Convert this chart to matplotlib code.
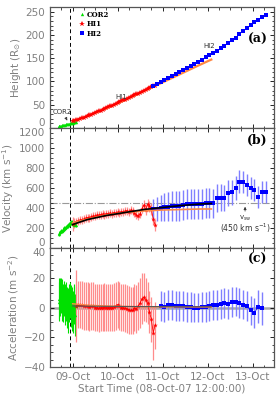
import matplotlib
matplotlib.use("Agg")
import matplotlib.pyplot as plt
from matplotlib.ticker import MultipleLocator, FixedLocator

# time axis: hours since 08-Oct-07 12:00:00
day_ticks = [12, 36, 60, 84, 108]
day_labels = ["09-Oct", "10-Oct", "11-Oct", "12-Oct", "13-Oct"]
t_start_line = 10.4

# COR2
green_t = [4.5, 5.0, 5.5, 6.0, 6.5, 7.0, 7.5, 8.0, 8.5, 9.0,
           9.5, 10.0, 10.5, 11.0, 11.5, 12.0, 12.5, 13.0, 13.5, 14.0]
green_h = [3.5, 4.0, 4.6, 5.1, 5.6, 6.1, 6.6, 7.1, 7.6, 8.1,
           8.6, 9.1, 9.7, 10.3, 10.9, 11.5, 12.1, 12.7, 13.3, 13.9]
green_v = [140, 150, 160, 170, 175, 185, 195, 200, 210, 220,
           230, 240, 250, 255, 260, 245, 235, 255, 245, 235]
green_v_err = [20, 20, 20, 20, 20, 22, 22, 22, 22, 22,
               25, 25, 25, 25, 25, 25, 25, 25, 25, 25]
green_a = [4, 6, 7, 8, 5, 3, 6, 2, 4, 0,
           -2, 3, 5, 1, -1, -3, 2, 4, -5, 1]
green_a_err = [13, 14, 13, 12, 14, 13, 12, 14, 13, 14,
               15, 13, 12, 14, 15, 14, 13, 12, 14, 13]

# HI1
red_t = list(range(12, 57))
red_h = [14.0, 15.3, 16.7, 18.1, 19.5, 21.0, 22.5, 24.0, 25.6, 27.2,
         28.8, 30.4, 32.1, 33.8, 35.5, 37.2, 39.0, 40.8, 42.6, 44.4,
         46.2, 48.0, 49.8, 51.6, 53.5, 55.4, 57.3, 59.2, 61.1, 63.0,
         64.9, 66.9, 68.8, 70.6, 72.3, 74.0, 75.8, 77.8, 80.0, 82.0,
         84.2, 86.4, 88.4, 89.9, 91.1]
red_v = [240, 255, 265, 275, 280, 285, 290, 300, 305, 305,
         315, 320, 320, 330, 330, 335, 340, 335, 345, 345,
         350, 345, 355, 350, 360, 355, 365, 360, 370, 375,
         365, 380, 370, 350, 330, 320, 345, 395, 430, 380,
         440, 420, 390, 290, 230]
red_v_err = [70, 50, 40, 40, 40, 40, 40, 40, 40, 40,
             40, 40, 40, 40, 40, 40, 40, 40, 40, 40,
             40, 40, 40, 40, 40, 40, 40, 40, 40, 40,
             40, 40, 40, 40, 40, 40, 40, 45, 50, 50,
             55, 55, 60, 60, 60]
red_at = list(range(14, 57))
red_a = [1, 2, 2, 1.5, 1, 1, 1, 0.5, 1, 1,
         0, 0, -0.5, 0, 0, 0.5, 0, 0, 0, 0,
         0.5, 1, 2, 1, 0, 0, -0.5, -1, -1.5, -2,
         -2, 0, -1, 1, 3, 6, 7, 5, 3, -3,
         -8, -17, -12]
red_a_err = [24, 16, 16, 16, 16, 16, 16, 16, 16, 16,
             16, 16, 16, 16, 16, 16, 16, 16, 16, 16,
             16, 16, 16, 16, 16, 16, 16, 16, 16, 16,
             16, 16, 16, 16, 17, 17, 16, 15, 14, 14,
             15, 18, 16]

# HI2
blue_t = list(range(55, 116, 2))
blue_h = [90, 94, 98.2, 102.4, 106.6, 110.9, 115.3, 119.7, 124.1, 128.6,
          133.2, 137.8, 142.4, 147, 151.7, 156.4, 161, 166.2, 171.4, 176.6,
          182.3, 188.1, 194.3, 201.2, 208.1, 214.6, 220.8, 226.8, 232.1, 238,
          243.8]
blue_v = [390, 395, 400, 410, 415, 420, 425, 425, 430, 440,
          445, 445, 445, 445, 450, 455, 450, 500, 505, 505,
          555, 560, 600, 665, 665, 630, 600, 580, 515, 565,
          560]
blue_v_err = [105, 120, 130, 140, 145, 150, 150, 150, 150, 150,
              150, 150, 150, 150, 150, 150, 145, 140, 135, 130,
              130, 125, 120, 115, 110, 110, 110, 110, 110, 110,
              110]
blue_at = list(range(59, 114, 2))
blue_a = [1, 0.5, 1.5, 1.5, 1, 1, 1, 0.5, 0.5, 0,
          0, 0.5, 0.5, 1, 1.5, 1.5, 2.5, 3, 2.5, 3.5,
          4, 3, 2, 1, -2, -3.5, 0.5, -0.5]
blue_a_err = [10, 10, 10, 10, 10, 10, 10, 10, 10, 10,
              10, 10, 10, 10, 10, 10, 10, 10, 10, 10,
              10, 10, 10, 10, 10, 10, 11, 11]

# fits
fit_t = [12, 20, 30, 40, 50, 60, 70, 80, 86]
fit_h = [14, 25.5, 42, 60, 79, 98, 117, 136, 147]
fit_v_black = [235, 285, 325, 355, 385, 405, 425, 440, 445]
fit_v_orange = [250, 290, 330, 355, 370, 380, 385, 390, 390]
fit_a_black = [1.0, 0.9, 0.8, 0.7, 0.6, 0.6, 0.5, 0.5, 0.5]
fit_a_orange = [2.5, 1.6, 1.0, 0.7, 0.5, 0.4, 0.4, 0.3, 0.3]
v_sw = 450

GREEN, RED, BLUE, ORANGE = "#00e000", "#ff0000", "#0000ff", "#ff8844"
PINK, LBLUE = "#ff8c8c", "#7f7fff"
LABEL_C = "#808080"

fig = plt.figure(figsize=(2.8, 4.0), dpi=100)
ax_a = fig.add_axes([0.179, 0.68, 0.80, 0.3025])
ax_b = fig.add_axes([0.179, 0.38, 0.80, 0.30], sharex=ax_a)
ax_c = fig.add_axes([0.179, 0.0825, 0.80, 0.2975], sharex=ax_a)

for ax in (ax_a, ax_b, ax_c):
    ax.axvline(t_start_line, color="black", ls=(0, (4, 3)), lw=0.7, zorder=1)
    ax.tick_params(direction="in", top=True, right=True, labelsize=7.5,
                   labelcolor=LABEL_C, length=3, width=0.6)
    ax.tick_params(which="minor", direction="in", top=True, right=True, length=1.8, width=0.5)
    ax.xaxis.set_major_locator(FixedLocator(day_ticks))
    ax.xaxis.set_minor_locator(MultipleLocator(6))
    for s in ax.spines.values():
        s.set_linewidth(0.9)
        s.set_color("#555555")
    ax.set_xlim(0, 119.5)

# (a) height
ax_a.plot(fit_t, fit_h, "-", color=ORANGE, lw=1.6, zorder=2)
ax_a.plot(green_t, green_h, "^", color=GREEN, ms=2.4, mew=0, label="COR2", zorder=3)
ax_a.plot(red_t, red_h, "*", color=RED, ms=4, mew=0, label="HI1", zorder=3)
ax_a.plot(blue_t, blue_h, "s", color=BLUE, ms=2.4, mew=0, label="HI2", zorder=4)
ax_a.set_ylim(0, 260)
ax_a.set_yticks([0, 50, 100, 150, 200, 250])
ax_a.yaxis.set_minor_locator(MultipleLocator(10))
ax_a.get_yticklabels()[0].set_va("bottom")
ax_a.set_ylabel(r"Height (R$_{\odot}$)", color=LABEL_C, fontsize=7.5, labelpad=2)
ax_a.text(35, 62, "HI1", fontsize=5, color="#333333")
ax_a.text(82, 172, "HI2", fontsize=5, color="#333333")
ax_a.annotate("COR2", xy=(9.8, 11), xytext=(1.5, 31), fontsize=5, color="#333333",
              arrowprops=dict(arrowstyle="-|>", lw=0.5, color="#333333", mutation_scale=4))
ax_a.text(0.97, 0.73, "(a)", transform=ax_a.transAxes, ha="right", va="center",
          fontsize=9, fontweight="bold", family="DejaVu Serif")
ax_a.legend(loc="upper left", bbox_to_anchor=(0.1, 1.02), frameon=False,
            prop={"family": "DejaVu Serif", "size": 5, "weight": "bold"},
            handlelength=0.8, handletextpad=0.3, labelspacing=0.2, markerscale=1.0)
plt.setp(ax_a.get_xticklabels(), visible=False)

# (b) velocity
ax_b.axhline(v_sw, color="#999999", ls="-.", lw=0.8, zorder=1)
ax_b.errorbar(green_t, green_v, yerr=green_v_err, fmt="^", color=GREEN, ms=2.4, mew=0,
              ecolor=GREEN, elinewidth=0.7, capsize=0.8, capthick=0.5)
eb = ax_b.errorbar(red_t, red_v, yerr=red_v_err, fmt="*-", color=RED, ms=3.5, mew=0, lw=0.6,
                   ecolor=PINK, elinewidth=0.9, capsize=1.0, capthick=0.6)
for cap in eb[1]:
    cap.set_color(RED)
eb = ax_b.errorbar(blue_t, blue_v, yerr=blue_v_err, fmt="s", color=BLUE, ms=2.4, mew=0,
                   ecolor=LBLUE, elinewidth=1.0, capsize=1.3, capthick=0.7)
for cap in eb[1]:
    cap.set_color(BLUE)
ax_b.plot(fit_t, fit_v_orange, "-", color=ORANGE, lw=1.2, zorder=4)
ax_b.plot(fit_t, fit_v_black, "-", color="black", lw=1.2, zorder=5)
ax_b.set_ylim(0, 1200)
ax_b.set_yticks([0, 200, 400, 600, 800, 1000, 1200])
ax_b.yaxis.set_minor_locator(MultipleLocator(50))
ax_b.get_yticklabels()[0].set_va("bottom")
ax_b.get_yticklabels()[-1].set_va("top")
ax_b.set_ylabel(r"Velocity (km s$^{-1}$)", color=LABEL_C, fontsize=7.5, labelpad=2)
ax_b.annotate("", xy=(104, 440), xytext=(104, 340),
              arrowprops=dict(arrowstyle="-|>", lw=0.5, color="#333333", mutation_scale=4))
ax_b.text(104, 300, r"v$_{\rm sw}$", ha="center", va="center", fontsize=5, color="#333333")
ax_b.text(104, 195, r"(450 km s$^{-1}$)", ha="center", va="center", fontsize=5.5, color="#333333")
ax_b.text(0.97, 0.9, "(b)", transform=ax_b.transAxes, ha="right", va="center",
          fontsize=9, fontweight="bold", family="DejaVu Serif")
plt.setp(ax_b.get_xticklabels(), visible=False)

# (c) acceleration
ax_c.axhline(0, color="#aaaaaa", lw=1.8, zorder=1)
ax_c.errorbar(green_t, green_a, yerr=green_a_err, fmt="^", color=GREEN, ms=2.4, mew=0,
              ecolor=GREEN, elinewidth=0.8, capsize=0.8, capthick=0.5)
eb = ax_c.errorbar(red_at, red_a, yerr=red_a_err, fmt="*-", color=RED, ms=3.5, mew=0, lw=0.6,
                   ecolor=PINK, elinewidth=0.9, capsize=1.0, capthick=0.6)
for cap in eb[1]:
    cap.set_color(RED)
eb = ax_c.errorbar(blue_at, blue_a, yerr=blue_a_err, fmt="s-", color=BLUE, ms=2.4, mew=0, lw=0.5,
                   ecolor=LBLUE, elinewidth=1.0, capsize=1.3, capthick=0.7)
for cap in eb[1]:
    cap.set_color(BLUE)
ax_c.plot(fit_t, fit_a_orange, "-", color=ORANGE, lw=1.0, zorder=4)
ax_c.plot(fit_t, fit_a_black, "-", color="#555555", lw=0.8, zorder=4)
ax_c.set_ylim(-40, 40)
ax_c.set_yticks([-40, -20, 0, 20, 40])
ax_c.yaxis.set_minor_locator(MultipleLocator(5))
ax_c.get_yticklabels()[-1].set_va("top")
ax_c.set_ylabel(r"Acceleration (m s$^{-2}$)", color=LABEL_C, fontsize=7.5, labelpad=2)
ax_c.text(0.97, 0.9, "(c)", transform=ax_c.transAxes, ha="right", va="center",
          fontsize=9, fontweight="bold", family="DejaVu Serif")
ax_c.set_xticklabels(day_labels)
ax_c.set_xlabel("Start Time (08-Oct-07 12:00:00)", color=LABEL_C, fontsize=7.5, labelpad=1)

fig.savefig("out.png", dpi=100)
